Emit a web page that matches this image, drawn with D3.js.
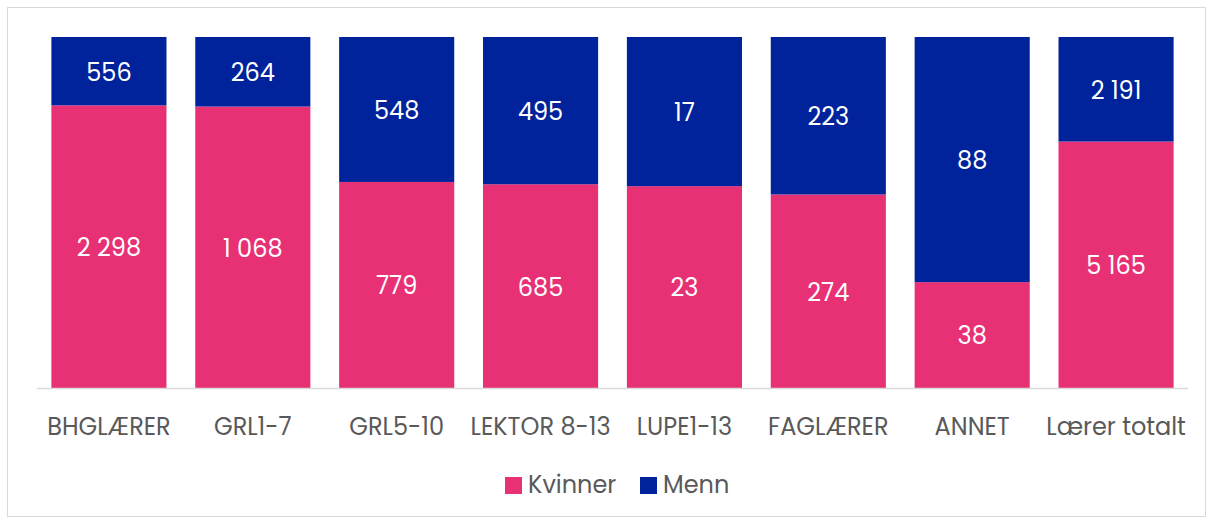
<!DOCTYPE html>
<html>
<head>
<meta charset="utf-8">
<script src="https://cdn.jsdelivr.net/npm/d3@7"></script>
<style>
  body { margin: 0; background: #fff; }
  text { font-family: "Poppins", "Open Sans", "Noto Sans", sans-serif; }
</style>
</head>
<body>
<div id="chart"></div>
<script>
/* Data */
var categories = ["BHGLÆRER", "GRL1-7", "GRL5-10", "LEKTOR 8-13", "LUPE1-13", "FAGLÆRER", "ANNET", "Lærer totalt"];
var kvinner = [2298, 1068, 779, 685, 23, 274, 38, 5165];
var menn = [556, 264, 548, 495, 17, 223, 88, 2191];
var seriesNames = ["Kvinner", "Menn"];
var seriesColors = ["#E83074", "#00239C"];

var width = 1213,
    height = 523;

var svg = d3.select("#chart").append("svg")
    .attr("width", width)
    .attr("height", height);

// chart frame
svg.append("rect")
    .attr("x", 7.5).attr("y", 7.5)
    .attr("width", width - 15).attr("height", height - 14)
    .attr("fill", "#fff")
    .attr("stroke", "#d9d9d9");

var x = d3.scaleBand().domain(categories).range([37, 1188]).paddingInner(0.2).paddingOuter(0.1);
var y = d3.scaleLinear().domain([0, 1]).range([388, 37]);

var rows = categories.map(function(c, i) {
    var t = kvinner[i] + menn[i];
    return { cat: c, Kvinner: kvinner[i] / t, Menn: menn[i] / t, raw: [kvinner[i], menn[i]] };
});
var stacked = d3.stack().keys(seriesNames)(rows);

var fmt = function(v) { return d3.format(",")(v).replace(/,/g, " "); };

var groups = svg.selectAll("g.series")
    .data(stacked)
    .enter().append("g")
    .attr("class", "series")
    .attr("fill", function(d, i) { return seriesColors[i]; });

groups.selectAll("rect")
    .data(function(d) { return d; })
    .enter().append("rect")
    .attr("x", function(d) { return x(d.data.cat); })
    .attr("y", function(d) { return y(d[1]); })
    .attr("height", function(d) { return y(d[0]) - y(d[1]); })
    .attr("width", x.bandwidth());

// value labels
stacked.forEach(function(s, si) {
    svg.append("g").selectAll("text")
        .data(s)
        .enter().append("text")
        .attr("x", function(d) { return x(d.data.cat) + x.bandwidth() / 2; })
        .attr("y", function(d) { return (y(d[0]) + y(d[1])) / 2 + 1; })
        .attr("dy", "0.35em")
        .attr("text-anchor", "middle")
        .attr("fill", "#fff")
        .style("font-size", "24px")
        .text(function(d) { return fmt(d.data.raw[si]); });
});

// baseline
svg.append("line")
    .attr("x1", 37).attr("x2", 1188)
    .attr("y1", 388.5).attr("y2", 388.5)
    .attr("stroke", "#d9d9d9").attr("stroke-width", 1.5);

// category labels
svg.append("g").selectAll("text")
    .data(categories)
    .enter().append("text")
    .attr("x", function(d) { return x(d) + x.bandwidth() / 2; })
    .attr("y", 427)
    .attr("dy", "0.35em")
    .attr("text-anchor", "middle")
    .attr("fill", "#595959")
    .style("font-size", "24px")
    .text(function(d) { return d; });

// legend
var legend = svg.append("g");
var lx = [505, 640];
seriesNames.forEach(function(n, i) {
    legend.append("rect")
        .attr("x", lx[i]).attr("y", 477)
        .attr("width", 17).attr("height", 17)
        .attr("fill", seriesColors[i]);
    legend.append("text")
        .attr("x", lx[i] + 23).attr("y", 485)
        .attr("dy", "0.35em")
        .attr("fill", "#595959")
        .style("font-size", "24px")
        .text(n);
});
</script>
</body>
</html>
